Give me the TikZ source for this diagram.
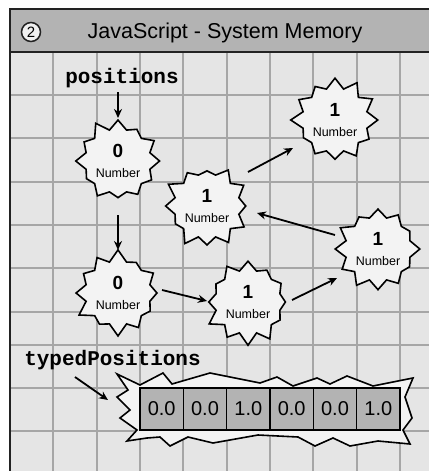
\documentclass[tikz,border=0pt]{standalone}
\usepackage{fontspec}
\setmainfont{Liberation Sans}
\setmonofont{Liberation Mono}
\usetikzlibrary{shapes.symbols,arrows.meta}
\definecolor{bgc}{HTML}{E5E5E5}
\definecolor{gridc}{HTML}{A6A6A6}
\definecolor{hdrc}{HTML}{B3B3B3}
\definecolor{burstc}{HTML}{F3F3F3}
\definecolor{cellc}{HTML}{B3B3B3}
\definecolor{framec}{HTML}{222222}
\tikzset{
  gridline/.style={draw=gridc, line width=1.8pt},
  frameline/.style={draw=framec, line width=2.2pt},
  burst/.style={starburst, draw, line width=1.6pt, fill=burstc, starburst points=12,
    starburst point height=12pt, minimum width=90pt, minimum height=88pt,
    inner sep=0pt, align=center, font=\fontsize{12.5}{20.5}\selectfont},
  blob/.style={draw, line width=1.6pt, fill=burstc, line join=miter},
  arr/.style={draw, line width=1.8pt, -{Stealth[length=9pt,width=8pt]}},
  codelabel/.style={font=\fontsize{21}{21}\selectfont\ttfamily\bfseries, anchor=base, inner sep=0pt},
  cell/.style={draw, line width=1.6pt, fill=cellc, minimum width=43.33pt, minimum height=42pt,
    inner sep=0pt, font=\fontsize{20}{20}\selectfont}
}
\newcommand{\bnum}[1]{{\fontsize{19}{20.5}\selectfont\bfseries #1}}
\begin{document}
\begin{tikzpicture}[x=1pt,y=-1pt]
\useasboundingbox (0,0) rectangle (429,471);
% background and grid
\fill[bgc] (10,52) rectangle (429,471);
\foreach \x in {53,97,140,183,227,270,313,357,400} \draw[gridline] (\x,52) -- (\x,471);
\foreach \y in {95,138,182,225,268,312,345,388,431} \draw[gridline] (10,\y) -- (429,\y);
% header
\fill[hdrc] (10,9) rectangle (429,52);
\draw[frameline] (429,9) -- (10,9) -- (10,471);
\draw[frameline] (10,52) -- (429,52);
\node[circle, draw=framec, line width=1.5pt, fill=white!80!hdrc, minimum size=19pt, inner sep=0pt,
  font=\fontsize{15}{15}\selectfont] (num) at (31,32) {2};
\node[anchor=base, inner sep=0pt, font=\fontsize{21.5}{22}\selectfont] (title) at (225,38) {JavaScript - System Memory};
% labels
\node[codelabel] (P) at (122,83.5) {positions};
\node[codelabel] (tpl) at (112.5,365) {typedPositions};
% bursts
\node[burst, random starburst=11] (A) at (118,161) {\bnum{0}\\Number};
\node[burst, random starburst=23] (B) at (207,206) {\bnum{1}\\Number};
\node[burst, random starburst=37] (C) at (335,120) {\bnum{1}\\Number};
\node[burst, random starburst=41] (D) at (378,249) {\bnum{1}\\Number};
\node[burst, random starburst=53] (E) at (118,293) {\bnum{0}\\Number};
\node[burst, random starburst=67] (F) at (248,302) {\bnum{1}\\Number};
% typed array blob
\draw[blob] (117,374) -- (140,385) -- (163,373) -- (172,384) -- (210,373) -- (260,383)
  -- (277,377) -- (293,386) -- (317,378) -- (330,384) -- (347,376) -- (373,386) -- (413,378)
  -- (405,397) -- (412,418) -- (403,430) -- (410,444)
  -- (378,441) -- (350,446) -- (333,438) -- (315,446) -- (298,437) -- (258,435) -- (213,443)
  -- (188,437) -- (170,446) -- (160,437) -- (147,438) -- (127,441)
  -- (137,430) -- (120,418) -- (130,410) -- (117,397) -- (128,390) -- cycle;
\coordinate (tpin) at (108,400);
\node[cell] (c1) at (161.67,409) {0.0};
\node[cell] (c2) at (205,409) {0.0};
\node[cell] (c3) at (248.33,409) {1.0};
\node[cell] (c4) at (291.67,409) {0.0};
\node[cell] (c5) at (335,409) {0.0};
\node[cell] (c6) at (378.33,409) {1.0};
% arrows
\draw[arr] ([shift={(-4,8.5)}]P.base) -- ([shift={(0,-43)}]A.center);
\draw[arr] ([shift={(0,54)}]A.center) -- ([shift={(0,-43)}]E.center);
\draw[arr] ([shift={(41,-34)}]B.center) -- ([shift={(-42,28)}]C.center);
\draw[arr] ([shift={(-43,-14)}]D.center) -- ([shift={(50,7)}]B.center);
\draw[arr] ([shift={(44,-3)}]E.center) -- ([shift={(-41,-1)}]F.center);
\draw[arr] ([shift={(44,-2)}]F.center) -- ([shift={(-41,29)}]D.center);
\draw[arr] ([shift={(-37.5,12)}]tpl.base) -- (tpin);
\end{tikzpicture}
\end{document}
